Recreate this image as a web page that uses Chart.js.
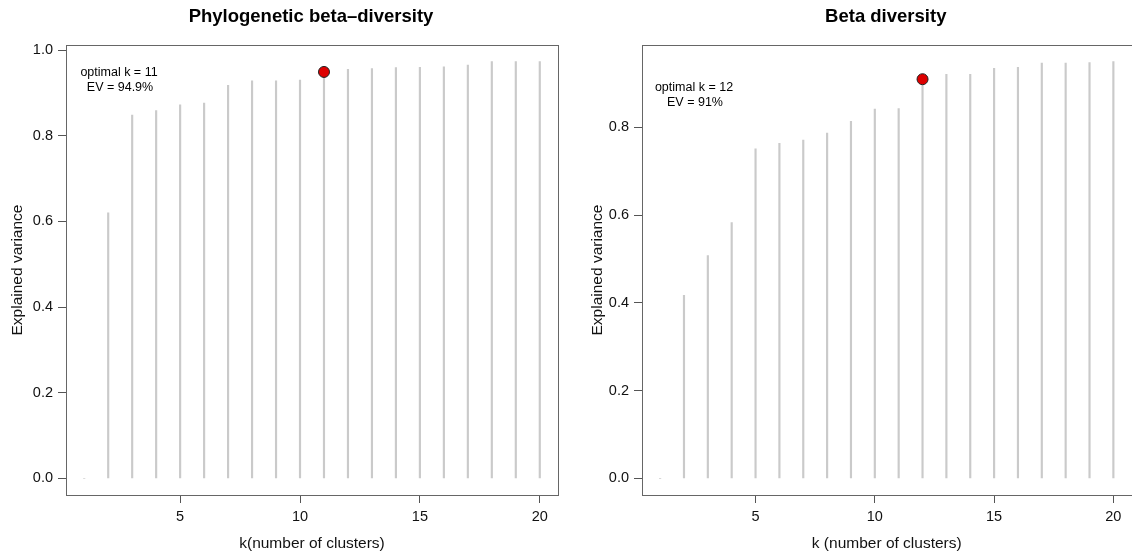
<!DOCTYPE html>
<html>
<head>
<meta charset="utf-8">
<script src="https://cdn.jsdelivr.net/npm/chart.js@4.4.1/dist/chart.umd.min.js"></script>
<style>
  body { margin: 0; width: 1132px; height: 559px; overflow: hidden; position: relative; background: #fff; }
  canvas { position: absolute; top: 0; }
</style>
</head>
<body>
<canvas id="phylo" width="566" height="559" style="left:0"></canvas>
<canvas id="beta" width="572" height="559" style="left:566px"></canvas>
<script>
// k values (number of clusters)
const clusters = [1, 2, 3, 4, 5, 6, 7, 8, 9, 10, 11, 12, 13, 14, 15, 16, 17, 18, 19, 20];

// explained variance per k
const phyloEV = [0, 0.62, 0.848, 0.859, 0.872, 0.876, 0.918, 0.928, 0.928, 0.930,
                 0.949, 0.955, 0.957, 0.959, 0.960, 0.961, 0.965, 0.973, 0.973, 0.973];
const betaEV = [0, 0.417, 0.508, 0.583, 0.751, 0.764, 0.771, 0.787, 0.814, 0.842,
                0.843, 0.910, 0.921, 0.921, 0.935, 0.937, 0.947, 0.947, 0.948, 0.950];

const phyloBest = 11;
const betaBest = 12;

const xTicks = [5, 10, 15, 20];
const phyloYTicks = [0, 0.2, 0.4, 0.6, 0.8, 1.0];
const betaYTicks = [0, 0.2, 0.4, 0.6, 0.8];

const FONT = '"Liberation Sans", Arial, Helvetica, sans-serif';

function makePanel(id, cfg) {
    const ctx = document.getElementById(id).getContext('2d');
    const ymax = Math.max(...cfg.values);
    const xmin = clusters[0], xmax = clusters[clusters.length - 1];
    const xpad = (xmax - xmin) * 0.04;

    // title, annotation and box, drawn like R base graphics
    const decor = {
        id: 'decor',
        afterDraw(chart) {
            const c = chart.ctx;
            const a = chart.chartArea;
            c.save();
            c.strokeStyle = '#666';
            c.lineWidth = 1;
            c.strokeRect(Math.round(a.left) + 0.5, Math.round(a.top) + 0.5,
                Math.round(a.right - a.left), Math.round(a.bottom - a.top));

            c.fillStyle = '#000';
            c.textAlign = 'center';
            c.textBaseline = 'middle';
            c.font = 'bold 18.5px ' + FONT;
            c.fillText(cfg.title, (a.left + a.right) / 2 - 1, 17);

            c.font = '12.5px ' + FONT;
            c.fillText('optimal k = ' + cfg.best, a.left + cfg.noteDx, a.top + cfg.noteDy);
            c.fillText('EV = ' + cfg.evText, a.left + cfg.noteDx + 1, a.top + cfg.noteDy + 15);
            c.restore();
        }
    };

    return new Chart(ctx, {
        type: 'bar',
        data: {
            datasets: [{
                type: 'scatter',
                data: [{ x: cfg.best, y: cfg.values[cfg.best - 1] }],
                pointRadius: 5.5,
                pointBackgroundColor: '#dd0000',
                pointBorderColor: '#222',
                pointBorderWidth: 1
            }, {
                data: clusters.map((k, i) => ({ x: k, y: cfg.values[i] })),
                backgroundColor: '#cacaca',
                barThickness: 1.5
            }]
        },
        options: {
            responsive: false,
            animation: false,
            layout: { padding: { top: 45, right: cfg.padRight, bottom: 0, left: 0 } },
            plugins: {
                legend: { display: false },
                tooltip: { enabled: false }
            },
            scales: {
                x: {
                    type: 'linear',
                    offset: false,
                    min: xmin - xpad,
                    max: xmax + xpad,
                    afterBuildTicks: s => { s.ticks = xTicks.map(v => ({ value: v })); },
                    afterFit: s => { s.height = 64; },
                    grid: { offset: false, drawOnChartArea: false, tickLength: 8, color: '#555' },
                    border: { display: false },
                    ticks: { color: '#111', font: { family: FONT, size: 14.5 }, padding: 5, maxRotation: 0 },
                    title: {
                        display: true, text: cfg.xTitle, color: '#111',
                        font: { family: FONT, size: 15.5 }, padding: { top: 0, bottom: 6 }
                    }
                },
                y: {
                    min: -0.04 * ymax,
                    max: ymax * 1.04,
                    afterBuildTicks: s => { s.ticks = cfg.yTicks.map(v => ({ value: v })); },
                    afterFit: s => { s.width = cfg.yWidth; },
                    grid: { drawOnChartArea: false, tickLength: 8, color: '#555' },
                    border: { display: false },
                    ticks: {
                        color: '#111', font: { family: FONT, size: 14.5 }, padding: 5,
                        callback: v => v.toFixed(1)
                    },
                    title: {
                        display: true, text: 'Explained variance', color: '#111',
                        font: { family: FONT, size: 15.5 }, padding: { top: cfg.yTitlePad, bottom: 0 }
                    }
                }
            }
        },
        plugins: [decor]
    });
}

makePanel('phylo', {
    title: 'Phylogenetic beta\u2013diversity',
    xTitle: 'k(number of clusters)',
    values: phyloEV,
    best: phyloBest,
    evText: '94.9%',
    yTicks: phyloYTicks,
    yWidth: 66,
    yTitlePad: 8,
    padRight: 8,
    noteDx: 53,
    noteDy: 28
});

makePanel('beta', {
    title: 'Beta diversity',
    xTitle: 'k (number of clusters)',
    values: betaEV,
    best: betaBest,
    evText: '91%',
    yTicks: betaYTicks,
    yWidth: 76,
    yTitlePad: 22,
    padRight: 4,
    noteDx: 52,
    noteDy: 43
});
</script>
</body>
</html>
